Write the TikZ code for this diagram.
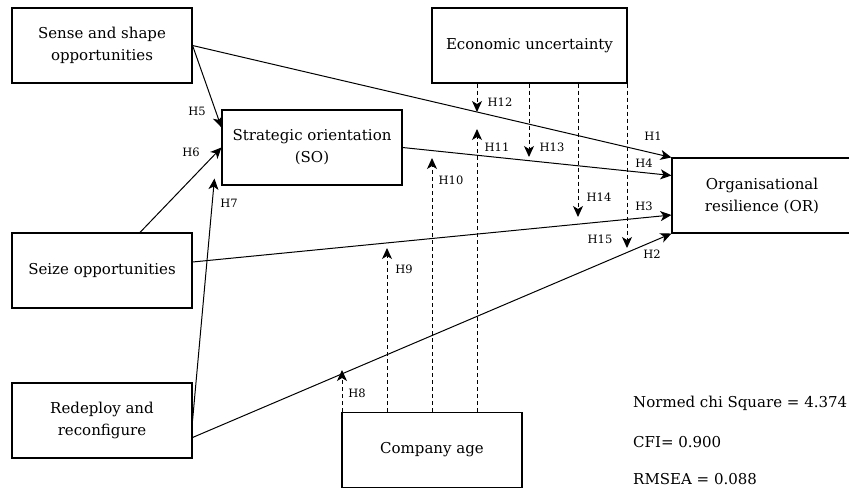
\documentclass[tikz,border=0pt]{standalone}
\usepackage{fontspec}
\setmainfont{DejaVu Serif}
\usetikzlibrary{arrows.meta}

\begin{document}
\begin{tikzpicture}[
      x=1pt, y=-1pt,
      box/.style={draw, line width=1.1pt, fill=white, align=center, minimum width=#1, minimum height=75pt, inner sep=0pt, font=\fontsize{15}{22}\selectfont},
      box/.default=180pt,
      path/.style={line width=1pt, -{Stealth[length=11pt, width=10pt, inset=3pt]}},
      modpath/.style={path, dash pattern=on 4pt off 3pt},
      hyp/.style={inner sep=0pt, font=\fontsize{11.5}{13}\selectfont},
      fit/.style={anchor=west, inner sep=0pt, font=\fontsize{15}{18}\selectfont}
    ]
      \useasboundingbox (0,0) rectangle (849,488);

      \node[box] (sense) at (102,45.5) {Sense and shape \\ opportunities};
      \node[box] (so) at (312,147.5) {Strategic orientation \\ (SO)};
      \node[box] (seize) at (102,270.5) {Seize opportunities};
      \node[box] (redeploy) at (102,420.5) {Redeploy and \\ reconfigure};
      \node[box] (age) at (432,450) {Company age};
      \node[box=195pt] (econ) at (529.5,45.5) {Economic uncertainty};
      \node[box] (or) at (762,195.5) {Organisational \\ resilience (OR)};

      \draw[path] (sense.east) -- (or.north west);
      \draw[path] (sense.east) -- ([yshift=20pt]so.west);
      \draw[path] ([xshift=38pt]seize.north) -- (so.west);
      \draw[path] (redeploy.east) -- ([xshift=-7pt, yshift=7pt]so.south west);
      \draw[path] (so.east) -- ([yshift=20pt]or.west);
      \draw[path] ([yshift=8.5pt]seize.east) -- ([yshift=-19.5pt]or.west);
      \draw[path] ([yshift=-17pt]redeploy.east) -- (or.south west);

      \coordinate (t8) at (342,370);
      \coordinate (t9) at (387,248);
      \coordinate (t10) at (432,158);
      \coordinate (t11) at (477,129);
      \coordinate (t12) at (477,112);
      \coordinate (t13) at (529,157);
      \coordinate (t14) at (578,217);
      \coordinate (t15) at (627,248);

      \foreach \t in {8,9,10,11}
        \draw[modpath] (age.north -| t\t) -- (t\t);
      \foreach \t in {12,13,14,15}
        \draw[modpath] (econ.south -| t\t) -- (t\t);

      \node[hyp] (h1) at (653,136) {H1};
      \node[hyp] (h2) at (652,254) {H2};
      \node[hyp] (h3) at (644,206) {H3};
      \node[hyp] (h4) at (644,163) {H4};
      \node[hyp] (h5) at (197,111) {H5};
      \node[hyp] (h6) at (191,152) {H6};
      \node[hyp] (h7) at (229,203) {H7};
      \node[hyp] (h8) at (357,393) {H8};
      \node[hyp] (h9) at (404,269) {H9};
      \node[hyp] (h10) at (451,180) {H10};
      \node[hyp] (h11) at (497,147) {H11};
      \node[hyp] (h12) at (500,102) {H12};
      \node[hyp] (h13) at (552,147) {H13};
      \node[hyp] (h14) at (599,197) {H14};
      \node[hyp] (h15) at (600,239) {H15};

      \node[fit] (chi) at (633,403) {Normed chi Square = 4.374};
      \node[fit] (cfi) at (633,442) {CFI= 0.900};
      \node[fit] (rmsea) at (633,479.5) {RMSEA = 0.088};
    \end{tikzpicture}
\end{document}
